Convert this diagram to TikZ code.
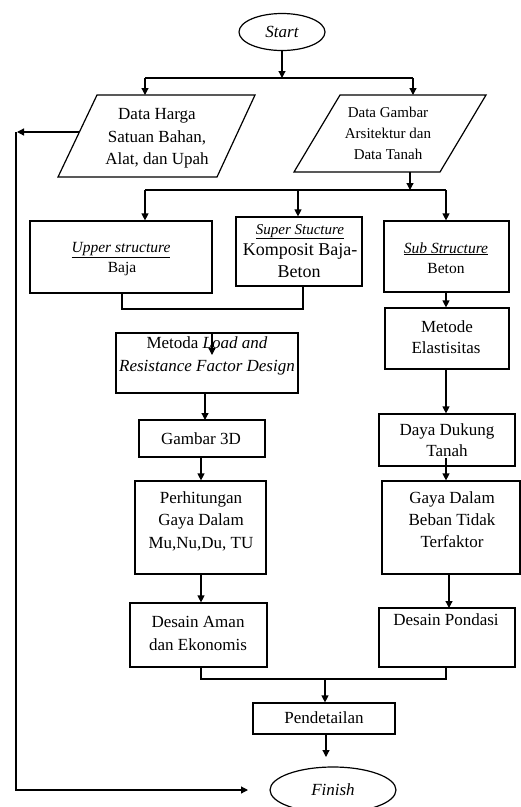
\documentclass[tikz,border=0pt]{standalone}
\usepackage{fontspec}
\setmainfont{Liberation Serif}
\usetikzlibrary{shapes.geometric,arrows.meta}
\begin{document}
\begin{tikzpicture}[x=1pt,y=-1pt,line width=1.2pt,
  box/.style={draw,rectangle,inner sep=0pt},
  oval/.style={draw,ellipse,inner sep=0pt,font=\fontsize{17}{20}\selectfont\itshape},
  arr/.style={-{Triangle[length=7pt,width=7pt]}},
  tl/.style={anchor=base,inner sep=0pt,font=\fontsize{17}{20}\selectfont},
  ts/.style={anchor=base,inner sep=0pt,font=\fontsize{15.5}{18}\selectfont},
  tx/.style={anchor=base,inner sep=0pt,font=\fontsize{15}{18}\selectfont},
  tb/.style={anchor=base,inner sep=0pt,font=\fontsize{18}{20}\selectfont}]
\useasboundingbox (0,0) rectangle (521,807);

% terminals
\node[oval,minimum width=86pt,minimum height=37pt] (start) at (282,32) {Start};
\node[oval,minimum width=126pt,minimum height=46pt] (finish) at (333,790) {Finish};

% parallelograms
\coordinate (pa1) at (97,95);  \coordinate (pa2) at (255,95);
\coordinate (pa3) at (217,177); \coordinate (pa4) at (58,177);
\draw (pa1) -- (pa2) -- (pa3) -- (pa4) -- cycle;
\coordinate (pb1) at (340,95);  \coordinate (pb2) at (486,95);
\coordinate (pb3) at (440,172); \coordinate (pb4) at (294,172);
\draw (pb1) -- (pb2) -- (pb3) -- (pb4) -- cycle;
\node[tl] (ha1) at (157,119) {Data Harga};
\node[tl] (ha2) at (157,142) {Satuan Bahan,};
\node[tl] (ha3) at (157,164) {Alat, dan Upah};
\node[tx] (ga1) at (388,117) {Data Gambar};
\node[tx] (ga2) at (388,138) {Arsitektur dan};
\node[tx] (ga3) at (388,159) {Data Tanah};

% boxes
\node[box,minimum width=182pt,minimum height=72pt] (upper) at (121,257) {};
\node[box,minimum width=126pt,minimum height=69pt] (super) at (299,251.5) {};
\node[box,minimum width=125pt,minimum height=71pt] (sub) at (446.5,256.5) {};
\node[box,minimum width=182pt,minimum height=60pt] (metoda) at (207,363) {};
\node[box,minimum width=126pt,minimum height=37pt] (gambar) at (202,438.5) {};
\node[box,minimum width=131pt,minimum height=93pt] (perhit) at (200.5,527.5) {};
\node[box,minimum width=137pt,minimum height=64pt] (aman) at (198.5,635) {};
\node[box,minimum width=142pt,minimum height=31pt] (pendet) at (324,718.5) {};
\node[box,minimum width=124pt,minimum height=61pt] (metode) at (447,338.5) {};
\node[box,minimum width=136pt,minimum height=52pt] (daya) at (447,440) {};
\node[box,minimum width=138pt,minimum height=93pt] (gaya) at (451,527.5) {};
\node[box,minimum width=136pt,minimum height=59pt] (pondasi) at (447,637.5) {};

% texts
\node[ts] (up1) at (121,252) {\underline{\textit{Upper structure}}};
\node[ts] (up2) at (122,272) {Baja};
\node[tx] (su1) at (300,234) {\underline{\textit{Super Stucture}}};
\node[tb] (su2) at (300,255) {Komposit Baja-};
\node[tb] (su3) at (299,277) {Beton};
\node[ts] (sb1) at (446,253) {\underline{\textit{Sub Structure}}};
\node[ts] (sb2) at (446,273) {Beton};
\node[tl] (mt1) at (207,348) {Metoda \textit{Load and}};
\node[tl] (mt2) at (207,371) {\textit{Resistance Factor Design}};
\node[tl] (me1) at (447,332) {Metode};
\node[tl] (me2) at (446,353) {Elastisitas};
\node[tl] (gb1) at (201,444) {Gambar 3D};
\node[tl] (ph1) at (201,503) {Perhitungan};
\node[tl] (ph2) at (201,525) {Gaya Dalam};
\node[tl] (ph3) at (201,548) {Mu,Nu,Du, TU};
\node[tl] (dy1) at (447,435) {Daya Dukung};
\node[tl] (dy2) at (447,456) {Tanah};
\node[tl] (gy1) at (452,503) {Gaya Dalam};
\node[tl] (gy2) at (452,525) {Beban Tidak};
\node[tl] (gy3) at (452,547) {Terfaktor};
\node[tl] (am1) at (198,627) {Desain Aman};
\node[tl] (am2) at (198,650) {dan Ekonomis};
\node[tl] (pd1) at (446,625) {Desain Pondasi};
\node[tl] (pt1) at (324,723) {Pendetailan};

% junction coordinates
\coordinate (j1) at (282,78);
\coordinate (j1l) at (145,78);
\coordinate (j1r) at (413,78);
\coordinate (j2) at (410,190);
\coordinate (j2l) at (145,190);
\coordinate (j2m) at (298,190);
\coordinate (j2r) at (446,190);
\coordinate (j3a) at (122,309);
\coordinate (j3b) at (303,309);
\coordinate (m1) at (212,333);
\coordinate (m2) at (212,355);
\coordinate (j4a) at (201,679);
\coordinate (j4b) at (446,679);
\coordinate (j4m) at (325,679);
\coordinate (fa) at (326,757);
\coordinate (fb1) at (79,132);
\coordinate (fb2) at (17,132);
\coordinate (fb3) at (16,132);
\coordinate (fb4) at (16,790);
\coordinate (fb5) at (248,790);

% connectors
\draw[arr] (start.south) -- (j1);
\draw (j1l) -- (j1r);
\draw[arr] (j1l) -- (j1l |- pa1);
\draw[arr] (j1r) -- (j1r |- pb1);
\draw[arr] (j2 |- pb3) -- (j2);
\draw (j2l) -- (j2r);
\draw[arr] (j2l) -- (j2l |- upper.north);
\draw[arr] (j2m) -- (j2m |- super.north);
\draw[arr] (j2r) -- (j2r |- sub.north);
\draw (j3a |- upper.south) -- (j3a) -- (j3b) -- (j3b |- super.south);
\draw[arr] (m1) -- (m2);
\draw[arr] (205,393) -- (205,420);
\draw[arr] (gambar.south -| j4a) -- (perhit.north -| j4a);
\draw[arr] (perhit.south -| j4a) -- (aman.north -| j4a);
\draw (aman.south -| j4a) -- (j4a) -- (j4b) -- (pondasi.south -| j4b);
\draw[arr] (j4m) -- (j4m |- pendet.north);
\draw[arr] (pendet.south -| fa) -- (fa);
\draw[arr] (sub.south -| j4b) -- (metode.north -| j4b);
\draw[arr] (metode.south -| j4b) -- (daya.north -| j4b);
\draw[arr] (446,458) -- (gaya.north -| j4b);
\draw[arr] (449,574) -- (449,608);
\draw[arr] (fb1) -- (fb2);
\draw[arr] (fb3) -- (fb4) -- (fb5);
\end{tikzpicture}
\end{document}
